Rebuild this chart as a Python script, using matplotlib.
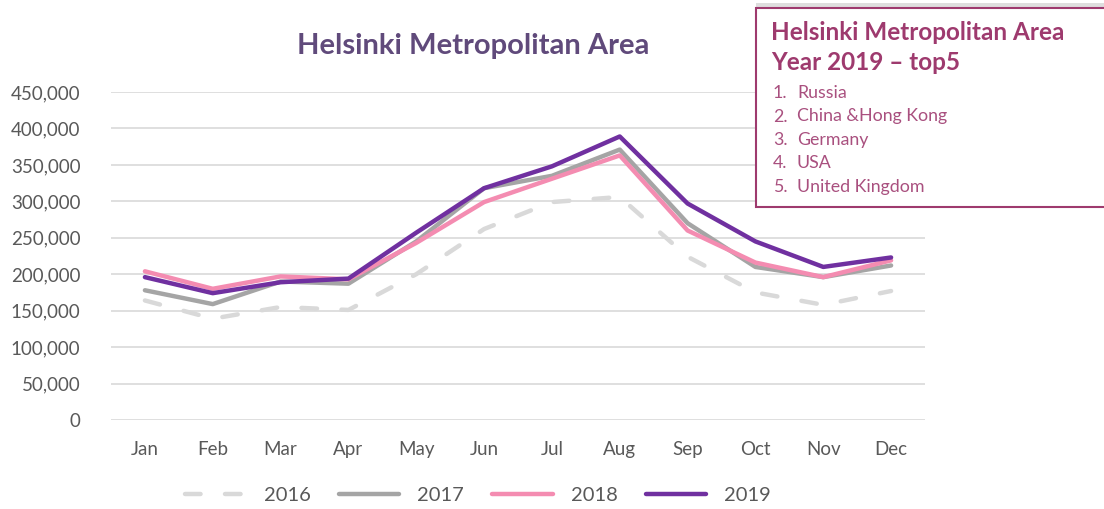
import matplotlib.pyplot as plt
from matplotlib.patches import Rectangle
from matplotlib.ticker import FuncFormatter

plt.rcParams['font.family'] = ['Lato', 'DejaVu Sans']

months = ['Jan', 'Feb', 'Mar', 'Apr', 'May', 'Jun', 'Jul', 'Aug', 'Sep', 'Oct', 'Nov', 'Dec']
y2016 = [164000, 139000, 155000, 151000, 200000, 262000, 299000, 306000, 224000, 175000, 158000, 177000]
y2017 = [178000, 159000, 190000, 187000, 245000, 318000, 335000, 371000, 270000, 210000, 196000, 212000]
y2018 = [204000, 180000, 197000, 193000, 243000, 299000, 331000, 363000, 260000, 216000, 196000, 219000]
y2019 = [196000, 174000, 189000, 194000, 257000, 318000, 348000, 389000, 297000, 245000, 210000, 223000]
top5 = ['Russia', 'China &Hong Kong', 'Germany', 'USA', 'United Kingdom']

fig = plt.figure(figsize=(11.04, 5.09), dpi=100)
ax = fig.add_axes([111/1104, 1-420/509, (925-111)/1104, (420-92)/509])

x = range(len(months))
ax.plot(x, y2016, color='#D9D9D9', lw=3.2, ls=(0, (3.5, 5.5)), label='2016', solid_capstyle='round', dash_capstyle='round')
ax.plot(x, y2017, color='#A5A5A5', lw=3.2, label='2017', solid_capstyle='round')
ax.plot(x, y2018, color='#F48CB1', lw=3.2, label='2018', solid_capstyle='round')
ax.plot(x, y2019, color='#7030A0', lw=3.2, label='2019', solid_capstyle='round')

ax.set_xlim(-0.5, 11.5)
ax.set_ylim(0, 450000)
ax.set_yticks(range(0, 450001, 50000))
ax.yaxis.set_major_formatter(FuncFormatter(lambda v, p: '{:,.0f}'.format(v)))
ax.set_xticks(list(x))
ax.set_xticklabels(months)
ax.grid(axis='y', color='#D9D9D9', lw=1.2)
ax.set_axisbelow(True)
for s in ax.spines.values():
    s.set_visible(False)
ax.tick_params(length=0, labelsize=13.5, labelcolor='#595959')
ax.tick_params(axis='y', pad=22)
ax.tick_params(axis='x', pad=15)

fig.text(473/1104, 1-46/509, 'Helsinki Metropolitan Area', ha='center', va='center',
         fontsize=21, fontweight='bold', color='#604A7B')

leg = fig.legend(loc='center', bbox_to_anchor=(478/1104, 1-495/509), ncol=4, frameon=False,
                 fontsize=14.5, handlelength=3.0, columnspacing=1.4, handletextpad=0.9)
for t in leg.get_texts():
    t.set_color('#595959')

# text box top right
shadow = Rectangle((756/1104, 1-204/509), 360/1104, 201/509, transform=fig.transFigure,
                   facecolor='#C8C8C8', edgecolor='none', alpha=0.6, zorder=5)
box = Rectangle((756/1104, 1-207/509), 360/1104, 199/509, transform=fig.transFigure,
                facecolor='white', edgecolor='#9E3A6E', lw=1.5, zorder=6)
fig.patches.extend([shadow, box])
fig.text(771/1104, 1-33/509, 'Helsinki Metropolitan Area', ha='left', va='center',
         fontsize=17.5, fontweight='bold', color='#9E3A6E', zorder=7)
fig.text(771/1104, 1-63/509, 'Year 2019 \u2013 top5', ha='left', va='center',
         fontsize=17.5, fontweight='bold', color='#9E3A6E', zorder=7)
for i, c in enumerate(top5):
    yy = 1 - (93 + i*23.5)/509
    fig.text(773/1104, yy, '%d.' % (i+1), ha='left', va='center', fontsize=12.8, color='#A9507F', zorder=7)
    fig.text(797/1104, yy, c, ha='left', va='center', fontsize=12.8, color='#A9507F', zorder=7)

fig.savefig('out.png', dpi=100)
